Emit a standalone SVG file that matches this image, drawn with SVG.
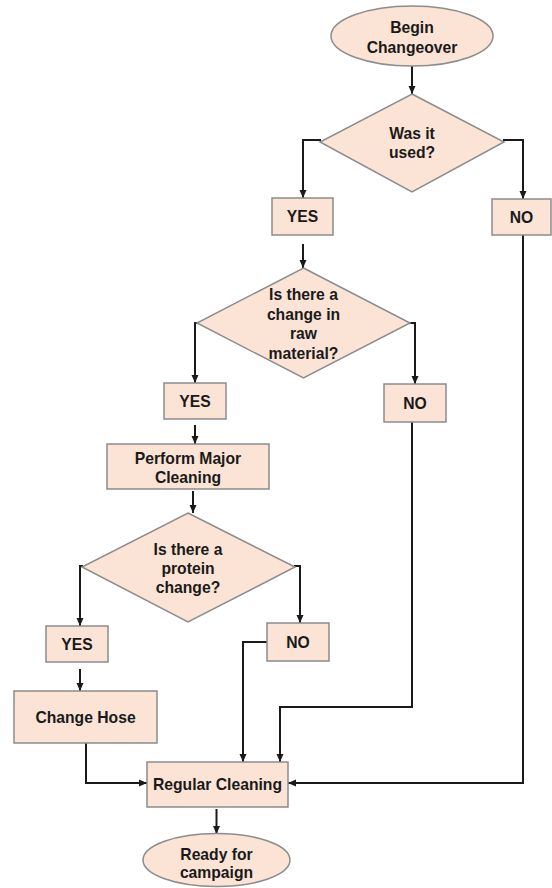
<svg xmlns="http://www.w3.org/2000/svg" width="552" height="888" viewBox="0 0 552 888">
<defs>
<marker id="ah" viewBox="0 0 8 8" refX="8" refY="4" markerWidth="8" markerHeight="8" markerUnits="userSpaceOnUse" orient="auto">
<path d="M0,0.5 L8,4 L0,7.5 Z" fill="#1a1a1a"/>
</marker>
<style>
.n{fill:#fbe4d5;stroke:#8c8c8c;stroke-width:1.5}
.t{font-family:"Liberation Sans",Arial,sans-serif;font-weight:bold;font-size:15.7px;fill:#1a1a1a;text-anchor:middle}
.c{fill:none;stroke:#1a1a1a;stroke-width:2;marker-end:url(#ah)}
</style>
</defs>
<rect width="552" height="888" fill="#ffffff"/>
<g id="connectors">
<path class="c" d="M412,66 V94"/>
<path class="c" d="M321,140 H303 V198"/>
<path class="c" d="M503,140 H523 V199"/>
<path class="c" d="M303,244 V268"/>
<path class="c" d="M198,323 H195 V383"/>
<path class="c" d="M409,323 H415 V384"/>
<path class="c" d="M195,425 V444"/>
<path class="c" d="M193,491 V513"/>
<path class="c" d="M83,566 H80 V626"/>
<path class="c" d="M294,566 H300 V623"/>
<path class="c" d="M80,669 V691"/>
<path class="c" d="M86,743 V783 H147"/>
<path class="c" d="M267,642 H243 V762"/>
<path class="c" d="M412,422 V707 H280 V762"/>
<path class="c" d="M523,235 V783 H288"/>
<path class="c" d="M216.5,809 V834"/>
</g>
<g id="begin">
<ellipse class="n" cx="412" cy="36" rx="81" ry="30"/>
<text class="t" x="412" y="33">Begin</text>
<text class="t" x="412" y="52.5">Changeover</text>
</g>
<g id="used">
<polygon class="n" points="412,94 504,142 412,192 320,142"/>
<text class="t" x="412" y="139">Was it</text>
<text class="t" x="412" y="158">used?</text>
</g>
<g id="used-yes">
<rect class="n" x="272" y="198" width="61" height="37"/>
<text class="t" x="302.5" y="222">YES</text>
</g>
<g id="used-no">
<rect class="n" x="492" y="199" width="59" height="36"/>
<text class="t" x="521.5" y="222.5">NO</text>
</g>
<g id="raw">
<polygon class="n" points="303.5,268 410,323 303.5,378 197,323"/>
<text class="t" x="303.5" y="300">Is there a</text>
<text class="t" x="303.5" y="319.5">change in</text>
<text class="t" x="303.5" y="339">raw</text>
<text class="t" x="303.5" y="358.5">material?</text>
</g>
<g id="raw-yes">
<rect class="n" x="164" y="383" width="62" height="36"/>
<text class="t" x="195" y="407">YES</text>
</g>
<g id="raw-no">
<rect class="n" x="384" y="384" width="62" height="38"/>
<text class="t" x="415" y="409">NO</text>
</g>
<g id="major">
<rect class="n" x="107" y="444" width="162" height="45"/>
<text class="t" x="188" y="463.5">Perform Major</text>
<text class="t" x="188" y="482.5">Cleaning</text>
</g>
<g id="protein">
<polygon class="n" points="188,513 295,567 188,622 82,567"/>
<text class="t" x="188" y="555">Is there a</text>
<text class="t" x="188" y="574">protein</text>
<text class="t" x="188" y="593">change?</text>
</g>
<g id="protein-yes">
<rect class="n" x="46" y="626" width="62" height="36"/>
<text class="t" x="77" y="650">YES</text>
</g>
<g id="protein-no">
<rect class="n" x="267" y="623" width="62" height="38"/>
<text class="t" x="298" y="647.5">NO</text>
</g>
<g id="hose">
<rect class="n" x="14" y="691" width="143" height="52"/>
<text class="t" x="85.5" y="723">Change Hose</text>
</g>
<g id="regular">
<rect class="n" x="147" y="762" width="141" height="45"/>
<text class="t" x="217.5" y="790">Regular Cleaning</text>
</g>
<g id="ready">
<ellipse class="n" cx="216.5" cy="860" rx="73.5" ry="26.5"/>
<text class="t" x="216.5" y="860">Ready for</text>
<text class="t" x="216.5" y="878">campaign</text>
</g>
</svg>
